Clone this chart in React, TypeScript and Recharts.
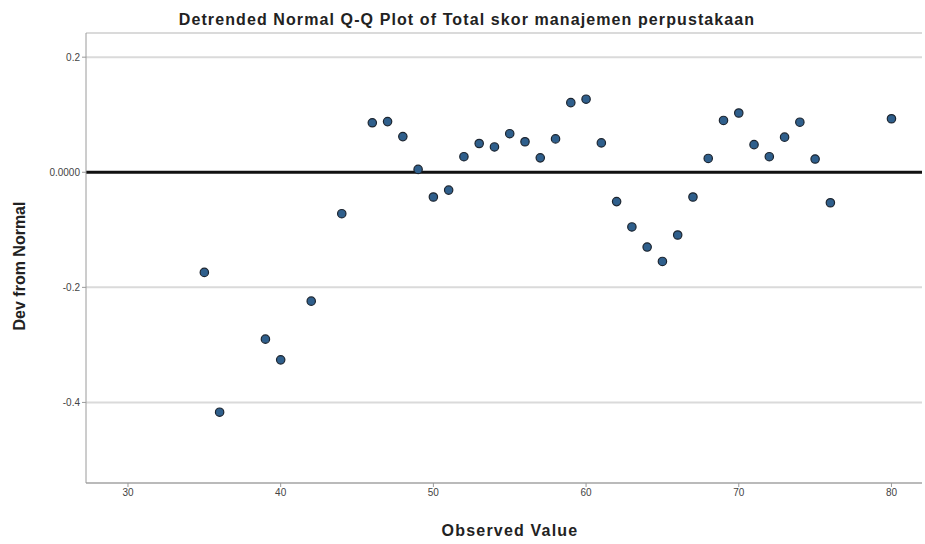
import React from 'react'
import {
  ScatterChart,
  Scatter,
  XAxis,
  YAxis,
  CartesianGrid,
  ReferenceLine,
} from 'recharts'

// observed scores and their detrended deviation from normal
const observed = [
  35, 36, 39, 40, 42, 44, 46, 47, 48, 49, 50, 51, 52, 53, 54, 55, 56, 57, 58,
  59, 60, 61, 62, 63, 64, 65, 66, 67, 68, 69, 70, 71, 72, 73, 74, 75, 76, 80,
]
const devFromNormal = [
  -0.174, -0.417, -0.29, -0.326, -0.224, -0.072, 0.086, 0.088, 0.062, 0.005,
  -0.043, -0.031, 0.027, 0.05, 0.044, 0.067, 0.053, 0.025, 0.058, 0.121,
  0.127, 0.051, -0.051, -0.095, -0.13, -0.155, -0.109, -0.043, 0.024, 0.09,
  0.103, 0.048, 0.027, 0.061, 0.087, 0.023, -0.053, 0.093,
]
const xTicks = [30, 40, 50, 60, 70, 80]
const yTicks = [0.2, 0, -0.2, -0.4]

const points = observed.map((x, i) => ({ x, y: devFromNormal[i] }))

const FONT = '"Liberation Sans", Arial, sans-serif'
const TICK = { fill: '#444', fontSize: 10, fontFamily: FONT }
const AXIS = { stroke: '#9a9a9a', strokeWidth: 1 }
const LABEL_STYLE = {
  fontSize: 16,
  fontWeight: 'bold' as const,
  fill: '#222',
  fontFamily: FONT,
}

function Dot(props: { cx?: number; cy?: number }) {
  if (props.cx == null || props.cy == null) return null
  return (
    <circle
      cx={props.cx}
      cy={props.cy}
      r={4.2}
      fill="#2f5f8c"
      stroke="#1c2530"
      strokeWidth={1.2}
    />
  )
}

export default function App() {
  return (
    <div
      style={{
        position: 'absolute',
        left: 0,
        top: 0,
        width: 925,
        height: 544,
        background: '#fff',
        fontFamily: FONT,
      }}
    >
      <div
        style={{
          position: 'absolute',
          left: 0,
          width: 934,
          top: 10,
          textAlign: 'center',
          fontSize: 16,
          letterSpacing: 1.1,
          fontWeight: 'bold',
          color: '#222',
          lineHeight: '20px',
        }}
      >
        Detrended Normal Q-Q Plot of Total skor manajemen perpustakaan
      </div>
      <ScatterChart
        width={925}
        height={544}
        margin={{ top: 33, right: 3, bottom: 0, left: 0 }}
      >
        <CartesianGrid
          horizontal
          vertical={false}
          stroke="#dadada"
          strokeWidth={2}
        />
        <XAxis
          type="number"
          dataKey="x"
          domain={[27.25, 82]}
          ticks={xTicks}
          height={61}
          tick={TICK}
          tickSize={4}
          tickLine={AXIS}
          axisLine={AXIS}
          allowDataOverflow
          label={{
            value: 'Observed Value',
            content: () => (
              <text
                x={510}
                y={536}
                textAnchor="middle"
                style={{ ...LABEL_STYLE, letterSpacing: 1.2 }}
              >
                Observed Value
              </text>
            ),
          }}
        />
        <YAxis
          type="number"
          dataKey="y"
          domain={[-0.54, 0.242]}
          ticks={yTicks}
          width={86}
          tick={TICK}
          tickSize={4}
          tickLine={AXIS}
          axisLine={AXIS}
          allowDataOverflow
          tickFormatter={(v: number) => (v === 0 ? '0.0000' : v.toFixed(1))}
          label={{
            value: 'Dev from Normal',
            content: () => (
              <text
                x={19}
                y={266}
                transform="rotate(-90, 19, 266)"
                textAnchor="middle"
                dominantBaseline="central"
                style={LABEL_STYLE}
              >
                Dev from Normal
              </text>
            ),
          }}
        />
        <ReferenceLine y={0} stroke="#111" strokeWidth={3} />
        <Scatter data={points} shape={<Dot />} isAnimationActive={false} />
      </ScatterChart>
    </div>
  )
}
